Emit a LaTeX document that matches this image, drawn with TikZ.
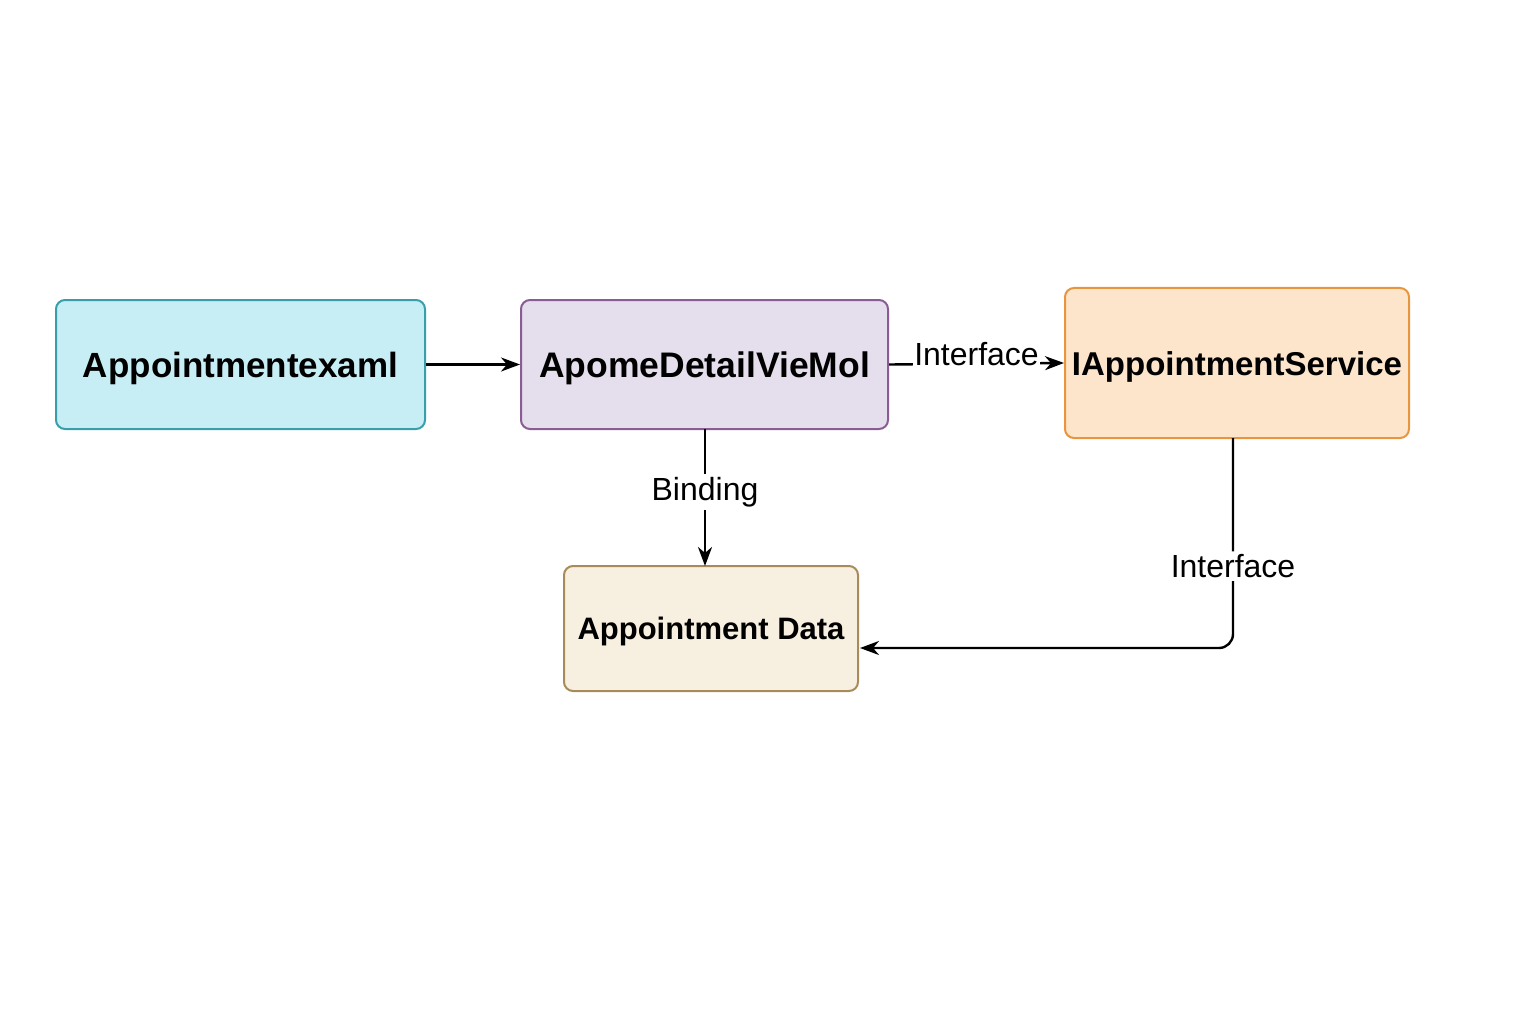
\documentclass[tikz,border=0pt]{standalone}
\usepackage{fontspec}
\setmainfont{Liberation Sans}
\usetikzlibrary{arrows.meta,positioning}
\definecolor{cyanfill}{HTML}{C7EEF4}
\definecolor{cyanline}{HTML}{3A9EAA}
\definecolor{purfill}{HTML}{E5DEEC}
\definecolor{purline}{HTML}{8A5C93}
\definecolor{orfill}{HTML}{FDE5CB}
\definecolor{orline}{HTML}{E8953F}
\definecolor{bgfill}{HTML}{F7EFE0}
\definecolor{bgline}{HTML}{A88B5A}
\tikzset{
  box/.style={draw, line width=2pt, rounded corners=9pt, inner sep=0pt,
    text depth=0pt, text=black},
  conn/.style={line width=2.4pt, -{Stealth[length=19pt,width=14pt,inset=6pt]}},
  lab/.style={fill=white, inner sep=3pt, font=\fontsize{32}{36}\selectfont, text=black},
}
\begin{document}
\begin{tikzpicture}[x=1pt,y=-1pt]
\useasboundingbox (0,0) rectangle (1536,1024);
\node[box, font=\fontsize{35}{35}\selectfont\bfseries, text height=25pt, fill=cyanfill, draw=cyanline, minimum width=369pt, minimum height=129pt] (view) at (240.5,364.5) {Appointmentexaml};
\node[box, font=\fontsize{35.5}{35.5}\selectfont\bfseries, text height=25.5pt, fill=purfill, draw=purline, minimum width=367pt, minimum height=129pt] (vm) at (704.5,364.5) {ApomeDetailVieMol};
\node[box, font=\fontsize{33}{33}\selectfont\bfseries, text height=24pt, fill=orfill, draw=orline, minimum width=344pt, minimum height=150pt] (svc) at (1237,363) {IAppointmentService};
\node[box, font=\fontsize{31}{31}\selectfont\bfseries, text height=22pt, fill=bgfill, draw=bgline, minimum width=294pt, minimum height=125pt] (data) at (711,628.5) {Appointment Data};
\coordinate (vmS) at (705,429);
\coordinate (dataN) at (705,566);
\coordinate (svcS) at (1233,438);
\coordinate (dataE) at (860,648);
\coordinate (corner) at (1233,648);
\draw[conn] (view.east) -- (vm.west);
\draw[conn] (vm.east) -- node[lab, yshift=10pt, inner sep=1pt] {Interface} (svc.west);
\draw[conn] (vmS) -- node[lab, pos=0.46] {Binding} (dataN);
\draw[conn, rounded corners=14pt] (svcS) -- node[lab, pos=0.61] {Interface} (corner) -- (dataE);
\end{tikzpicture}
\end{document}
